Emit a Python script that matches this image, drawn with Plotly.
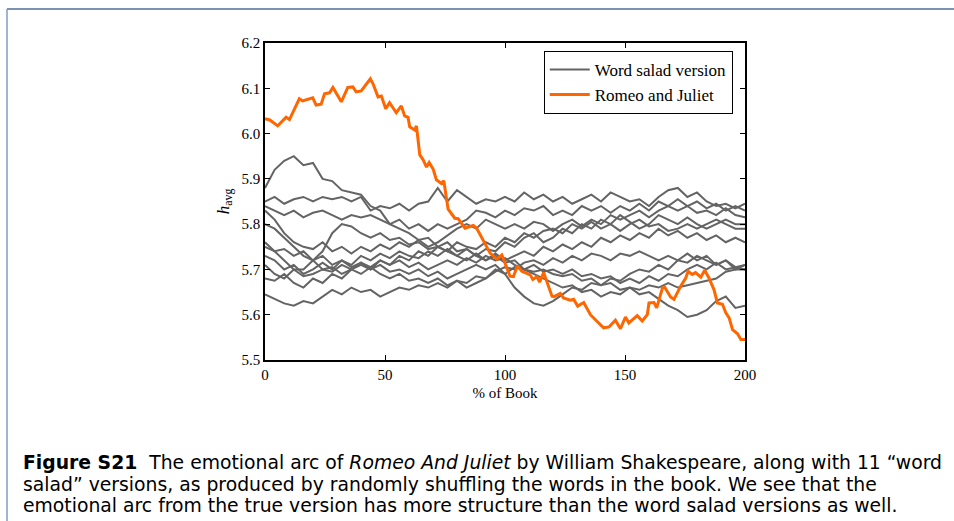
import plotly.graph_objects as go

# ---------------- data ----------------
salad_x = list(range(0, 201, 4))

salad_1 = [5.88, 5.92, 5.94, 5.95, 5.93, 5.935, 5.90, 5.895, 5.875, 5.87, 5.865, 5.84, 5.83, 5.80, 5.79, 5.78, 5.765, 5.77, 5.75, 5.76, 5.74, 5.745, 5.73, 5.745, 5.74, 5.76, 5.75, 5.77, 5.78, 5.76, 5.77, 5.79, 5.78, 5.80, 5.79, 5.81, 5.80, 5.82, 5.805, 5.79, 5.80, 5.82, 5.81, 5.80, 5.815, 5.80, 5.79, 5.80, 5.81, 5.80, 5.80]
salad_2 = [5.85, 5.86, 5.845, 5.855, 5.86, 5.85, 5.86, 5.855, 5.86, 5.85, 5.86, 5.83, 5.84, 5.835, 5.845, 5.83, 5.845, 5.85, 5.88, 5.85, 5.875, 5.86, 5.845, 5.855, 5.85, 5.86, 5.85, 5.87, 5.855, 5.865, 5.85, 5.86, 5.845, 5.855, 5.865, 5.85, 5.87, 5.86, 5.85, 5.855, 5.84, 5.86, 5.875, 5.88, 5.86, 5.87, 5.85, 5.84, 5.845, 5.835, 5.845]
salad_3 = [5.84, 5.83, 5.82, 5.83, 5.815, 5.825, 5.83, 5.82, 5.81, 5.82, 5.815, 5.82, 5.81, 5.80, 5.81, 5.79, 5.80, 5.785, 5.80, 5.79, 5.80, 5.81, 5.83, 5.825, 5.815, 5.83, 5.82, 5.835, 5.83, 5.84, 5.82, 5.83, 5.82, 5.84, 5.83, 5.84, 5.825, 5.84, 5.83, 5.845, 5.83, 5.85, 5.84, 5.855, 5.84, 5.85, 5.835, 5.845, 5.83, 5.84, 5.83]
salad_4 = [5.83, 5.81, 5.78, 5.76, 5.75, 5.745, 5.76, 5.74, 5.75, 5.735, 5.75, 5.74, 5.755, 5.745, 5.76, 5.75, 5.765, 5.75, 5.76, 5.775, 5.79, 5.80, 5.79, 5.81, 5.80, 5.79, 5.80, 5.79, 5.805, 5.80, 5.785, 5.80, 5.81, 5.795, 5.81, 5.80, 5.82, 5.81, 5.82, 5.83, 5.815, 5.83, 5.84, 5.83, 5.84, 5.825, 5.83, 5.82, 5.835, 5.82, 5.815]
salad_5 = [5.80, 5.79, 5.77, 5.75, 5.73, 5.72, 5.70, 5.705, 5.69, 5.70, 5.71, 5.70, 5.72, 5.71, 5.73, 5.72, 5.74, 5.73, 5.75, 5.74, 5.76, 5.75, 5.745, 5.76, 5.75, 5.77, 5.76, 5.78, 5.77, 5.785, 5.79, 5.78, 5.80, 5.79, 5.805, 5.79, 5.80, 5.785, 5.80, 5.81, 5.795, 5.80, 5.785, 5.79, 5.80, 5.79, 5.80, 5.81, 5.80, 5.79, 5.79]
salad_6 = [5.76, 5.74, 5.72, 5.70, 5.70, 5.72, 5.74, 5.78, 5.80, 5.795, 5.78, 5.77, 5.78, 5.765, 5.77, 5.755, 5.76, 5.745, 5.75, 5.74, 5.73, 5.745, 5.73, 5.72, 5.735, 5.72, 5.73, 5.74, 5.73, 5.75, 5.74, 5.755, 5.745, 5.76, 5.75, 5.77, 5.76, 5.775, 5.765, 5.78, 5.77, 5.79, 5.775, 5.785, 5.77, 5.78, 5.765, 5.775, 5.76, 5.77, 5.76]
salad_7 = [5.75, 5.74, 5.745, 5.73, 5.74, 5.72, 5.73, 5.71, 5.72, 5.705, 5.715, 5.70, 5.71, 5.695, 5.70, 5.69, 5.70, 5.685, 5.695, 5.68, 5.69, 5.70, 5.71, 5.70, 5.71, 5.69, 5.66, 5.64, 5.625, 5.62, 5.63, 5.645, 5.66, 5.655, 5.67, 5.665, 5.68, 5.675, 5.69, 5.70, 5.695, 5.71, 5.70, 5.72, 5.715, 5.73, 5.72, 5.71, 5.72, 5.70, 5.71]
salad_8 = [5.73, 5.72, 5.70, 5.71, 5.69, 5.70, 5.715, 5.70, 5.72, 5.71, 5.73, 5.72, 5.735, 5.725, 5.74, 5.73, 5.725, 5.74, 5.73, 5.745, 5.73, 5.72, 5.735, 5.72, 5.73, 5.715, 5.72, 5.70, 5.71, 5.695, 5.70, 5.69, 5.70, 5.685, 5.69, 5.68, 5.685, 5.67, 5.68, 5.67, 5.685, 5.675, 5.69, 5.685, 5.70, 5.71, 5.70, 5.715, 5.70, 5.705, 5.70]
salad_9 = [5.71, 5.69, 5.68, 5.70, 5.685, 5.69, 5.70, 5.695, 5.71, 5.70, 5.715, 5.705, 5.72, 5.71, 5.72, 5.705, 5.715, 5.70, 5.71, 5.72, 5.71, 5.725, 5.715, 5.73, 5.72, 5.725, 5.71, 5.70, 5.69, 5.68, 5.67, 5.66, 5.665, 5.65, 5.655, 5.64, 5.65, 5.645, 5.66, 5.655, 5.665, 5.66, 5.67, 5.66, 5.665, 5.67, 5.675, 5.68, 5.695, 5.70, 5.70]
salad_10 = [5.68, 5.675, 5.69, 5.67, 5.66, 5.68, 5.67, 5.69, 5.68, 5.70, 5.69, 5.705, 5.69, 5.68, 5.69, 5.675, 5.68, 5.67, 5.68, 5.665, 5.675, 5.66, 5.67, 5.68, 5.695, 5.705, 5.70, 5.715, 5.72, 5.71, 5.725, 5.715, 5.73, 5.72, 5.735, 5.73, 5.72, 5.735, 5.73, 5.74, 5.73, 5.72, 5.73, 5.72, 5.735, 5.72, 5.73, 5.71, 5.72, 5.705, 5.71]
salad_11 = [5.645, 5.635, 5.625, 5.62, 5.63, 5.625, 5.64, 5.655, 5.645, 5.66, 5.65, 5.655, 5.64, 5.65, 5.66, 5.655, 5.665, 5.66, 5.67, 5.66, 5.675, 5.67, 5.685, 5.68, 5.70, 5.69, 5.705, 5.70, 5.695, 5.70, 5.69, 5.685, 5.69, 5.675, 5.68, 5.665, 5.67, 5.655, 5.66, 5.645, 5.65, 5.635, 5.62, 5.61, 5.595, 5.60, 5.61, 5.63, 5.64, 5.615, 5.62]

salad_series = [salad_1, salad_2, salad_3, salad_4, salad_5, salad_6,
                salad_7, salad_8, salad_9, salad_10, salad_11]

romeo_x = [0, 2, 5.3, 8.8, 10.2, 14.3, 15.7, 19.9, 21.3, 23.4, 24.8, 26.9, 28.3, 31.8, 34.5, 36.6, 38.0, 40.1,
           43.9, 45.0, 47.1, 48.5, 50.3, 51.9, 54.7, 56.8, 58.2, 59.6, 60.3, 62.4, 63.1, 64.5, 65.9, 67.3,
           68.4, 70.1, 71.4, 73.5, 74.5, 75.4, 76.3, 79.1, 80.5, 83.3, 86.8, 88.2, 90.7, 91.7, 93.8, 96.6,
           98.7, 102.1, 103.5, 105.2, 107.0, 110.5, 111.6, 113.3, 114.4, 116.1, 119.6, 120.5, 123.0, 124.4,
           127.2, 128.6, 130.3, 132.8, 135.6, 138.4, 141.1, 143.3, 146.0, 148.1, 150.2, 151.6, 155.1, 157.2,
           159.3, 160.0, 162.1, 163.2, 165.6, 166.6, 169.0, 170.4, 173.2, 175.3, 176.3, 178.0, 179.4, 181.6,
           183.2, 185.0, 187.1, 188.5, 190.6, 192.0, 193.4, 194.8, 196.9, 198.3, 200]
romeo_y = [6.033, 6.030, 6.017, 6.036, 6.031, 6.077, 6.072, 6.079, 6.063, 6.065, 6.088, 6.090, 6.102, 6.070,
           6.102, 6.103, 6.092, 6.094, 6.121, 6.110, 6.081, 6.083, 6.055, 6.068, 6.046, 6.061, 6.039, 6.036,
           6.015, 6.008, 6.017, 5.953, 5.942, 5.926, 5.936, 5.921, 5.898, 5.890, 5.896, 5.865, 5.833, 5.813,
           5.812, 5.791, 5.797, 5.791, 5.766, 5.759, 5.736, 5.723, 5.732, 5.685, 5.684, 5.708, 5.696, 5.688,
           5.678, 5.684, 5.672, 5.693, 5.641, 5.640, 5.647, 5.637, 5.632, 5.634, 5.619, 5.627, 5.600, 5.585,
           5.571, 5.573, 5.588, 5.569, 5.595, 5.582, 5.598, 5.586, 5.600, 5.626, 5.627, 5.615, 5.659, 5.660,
           5.639, 5.634, 5.663, 5.681, 5.696, 5.689, 5.693, 5.683, 5.698, 5.681, 5.655, 5.626, 5.623, 5.604,
           5.593, 5.567, 5.558, 5.545, 5.545]

x_ticks = [0, 50, 100, 150, 200]
y_ticks = [5.5, 5.6, 5.7, 5.8, 5.9, 6.0, 6.1, 6.2]

caption_lines = [
    "<b>Figure S21</b>  The emotional arc of <i>Romeo And Juliet</i> by William Shakespeare, along with 11 \u201cword",
    "salad\u201d versions, as produced by randomly shuffling the words in the book. We see that the",
    "emotional arc from the true version has more structure than the word salad versions as well.",
]

# ---------------- figure ----------------
GRAY = "#646464"
ORANGE = "#ff6600"
SERIF = "Liberation Serif, DejaVu Serif, serif"
SANS = "DejaVu Sans, Liberation Sans, sans-serif"

fig = go.Figure()
for i, s in enumerate(salad_series):
    fig.add_trace(go.Scatter(
        x=salad_x, y=s, mode="lines",
        line=dict(color=GRAY, width=2),
        name="Word salad version", legendgroup="salad",
        showlegend=(i == 0), hoverinfo="skip"))

fig.add_trace(go.Scatter(
    x=romeo_x, y=romeo_y, mode="lines",
    line=dict(color=ORANGE, width=3),
    name="Romeo and Juliet"))

W, H = 954, 521
L, R, T, B = 265, 745, 43, 360
fig.update_layout(
    width=W, height=H,
    margin=dict(l=L, r=W - R, t=T, b=H - B, pad=0),
    paper_bgcolor="white", plot_bgcolor="white",
    font=dict(family=SERIF, size=15, color="black"),
    showlegend=True,
    legend=dict(
        x=0.9745, y=0.975, xanchor="right", yanchor="top",
        bordercolor="black", borderwidth=1, bgcolor="white",
        font=dict(family=SERIF, size=17, color="black"),
        tracegroupgap=0, itemwidth=40,
    ),
)
fig.update_xaxes(
    range=[0, 200], tickvals=x_ticks, ticktext=[str(v) for v in x_ticks],
    ticks="inside", ticklen=5, tickcolor="black", tickwidth=1,
    showline=True, linecolor="black", linewidth=1.5, mirror="ticks",
    showgrid=False, zeroline=False,
    title=dict(text="% of Book", font=dict(family=SERIF, size=15), standoff=6),
    tickfont=dict(family=SERIF, size=15),
)
fig.update_yaxes(
    range=[5.5, 6.2], tickvals=y_ticks, ticktext=["%.1f" % v for v in y_ticks],
    ticks="inside", ticklen=5, tickcolor="black", tickwidth=1,
    showline=True, linecolor="black", linewidth=1.5, mirror="ticks",
    showgrid=False, zeroline=False,
    title=dict(text="<i>h</i><sub>avg</sub>", font=dict(family=SERIF, size=17), standoff=8),
    tickfont=dict(family=SERIF, size=15),
)

pw, ph = R - L, B - T
def px(xp):
    return (xp - L) / pw
def py(yp):
    return (B - yp) / ph

# frame border
fig.add_shape(type="line", xref="paper", yref="paper",
              x0=px(7), x1=px(954), y0=py(9), y1=py(9),
              line=dict(color="#4f6f99", width=1.5))
fig.add_shape(type="line", xref="paper", yref="paper",
              x0=px(7), x1=px(7), y0=py(9), y1=py(521),
              line=dict(color="#7f9ec4", width=1.5))

caption_y = [462, 484, 505]
for txt, yy in zip(caption_lines, caption_y):
    fig.add_annotation(text=txt, xref="paper", yref="paper",
                       x=px(21), y=py(yy), xanchor="left", yanchor="middle",
                       showarrow=False, align="left",
                       font=dict(family=SANS, size=18.8, color="black"))

fig.write_html("out.html",
               config={"displayModeBar": False},
               post_script="document.body.style.margin='0';document.body.style.overflow='hidden';")
